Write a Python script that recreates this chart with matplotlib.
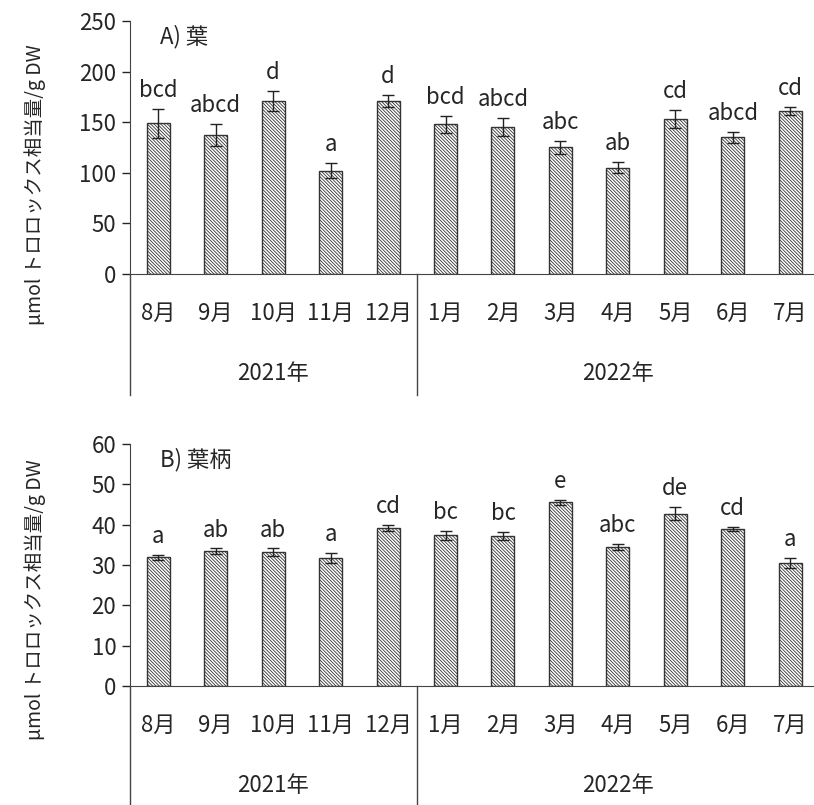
import matplotlib
matplotlib.use("Agg")
import matplotlib.pyplot as plt
import matplotlib.transforms as mtransforms

plt.rcParams['font.family'] = ['Noto Sans CJK JP', 'DejaVu Sans']
plt.rcParams['hatch.linewidth'] = 0.6
plt.rcParams['hatch.color'] = '#3a3a3a'

months = ["8月", "9月", "10月", "11月", "12月", "1月", "2月", "3月", "4月", "5月", "6月", "7月"]
years = ["2021年", "2022年"]
year_span = [(0, 4), (5, 11)]

leaf_mean = [149, 137, 171, 102, 171, 148, 145, 125, 105, 153, 135, 161]
leaf_err = [14.5, 11, 10, 7.5, 6, 8.5, 9, 6, 5.5, 9, 5.5, 4]
leaf_sig = ["bcd", "abcd", "d", "a", "d", "bcd", "abcd", "abc", "ab", "cd", "abcd", "cd"]

stem_mean = [31.9, 33.4, 33.2, 31.8, 39.2, 37.4, 37.2, 45.5, 34.5, 42.7, 39.0, 30.5]
stem_err = [0.6, 0.7, 0.9, 1.2, 0.8, 1.1, 1.0, 0.6, 0.8, 1.6, 0.5, 1.3]
stem_sig = ["a", "ab", "ab", "a", "cd", "bc", "bc", "e", "abc", "de", "cd", "a"]

ylabel = "μmol トロロックス相当量/g DW"
txt = '#262626'
fs = 16

fig = plt.figure(figsize=(8.14, 8.05), dpi=100)
W, H = 814, 805

def panel(rect, means, errs, sigs, ymax, ystep, title, depth):
    ax = fig.add_axes(rect)
    x = range(len(months))
    ax.bar(x, means, width=0.4, color='white', edgecolor='#333333', linewidth=1.0,
           hatch='\\' * 10, zorder=2)
    ax.errorbar(x, means, yerr=errs, fmt='none', ecolor='#222222', elinewidth=1,
                capsize=4, capthick=1, zorder=3)
    for i in x:
        ax.annotate(sigs[i], (i, means[i] + errs[i]), xytext=(0, 5),
                    textcoords='offset points', ha='center', va='bottom',
                    fontsize=fs, color=txt)
    ax.set_xlim(-0.5, 11.5)
    ax.set_ylim(0, ymax)
    ax.set_yticks(range(0, ymax + 1, ystep))
    ax.tick_params(axis='y', labelsize=fs, colors=txt, length=6, width=1, direction='out')
    ax.tick_params(axis='x', length=0, labelbottom=False)
    for s in ['top', 'right']:
        ax.spines[s].set_visible(False)
    ax.spines['left'].set_color('#444444')
    ax.spines['bottom'].set_color('#444444')
    tr = mtransforms.blended_transform_factory(ax.transData, ax.transAxes)
    # month and year labels
    h_px = rect[3] * H
    for i, m in enumerate(months):
        ax.text(i, -39 / h_px, m, transform=tr, ha='center', va='center',
                fontsize=fs, color=txt)
    for (a, b), yr in zip(year_span, years):
        ax.text((a + b) / 2, -99 / h_px, yr, transform=tr, ha='center', va='center',
                fontsize=fs, color=txt)
    for xb in [-0.5, 4.5, 11.5]:
        ax.plot([xb, xb], [0, -depth / h_px], transform=tr, color='#444444',
                linewidth=1, clip_on=False)
    ax.text(0.044, 0.937, title, transform=ax.transAxes, ha='left', va='center',
            fontsize=fs, color=txt)
    return ax

x0 = 129.5 / W
wd = (819 - 129.5) / W
panel([x0, (H - 274) / H, wd, 253 / H], leaf_mean, leaf_err, leaf_sig, 250, 50,
      "A) 葉", 121)
panel([x0, (H - 686) / H, wd, 242 / H], stem_mean, stem_err, stem_sig, 60, 10,
      "B) 葉柄", 122)

fig.text(0.043, 1 - 185 / H, ylabel, rotation=90, ha='center', va='center',
         fontsize=14, color=txt)
fig.text(0.043, 1 - 600 / H, ylabel, rotation=90, ha='center', va='center',
         fontsize=14, color=txt)

fig.savefig("out.png", dpi=100)
